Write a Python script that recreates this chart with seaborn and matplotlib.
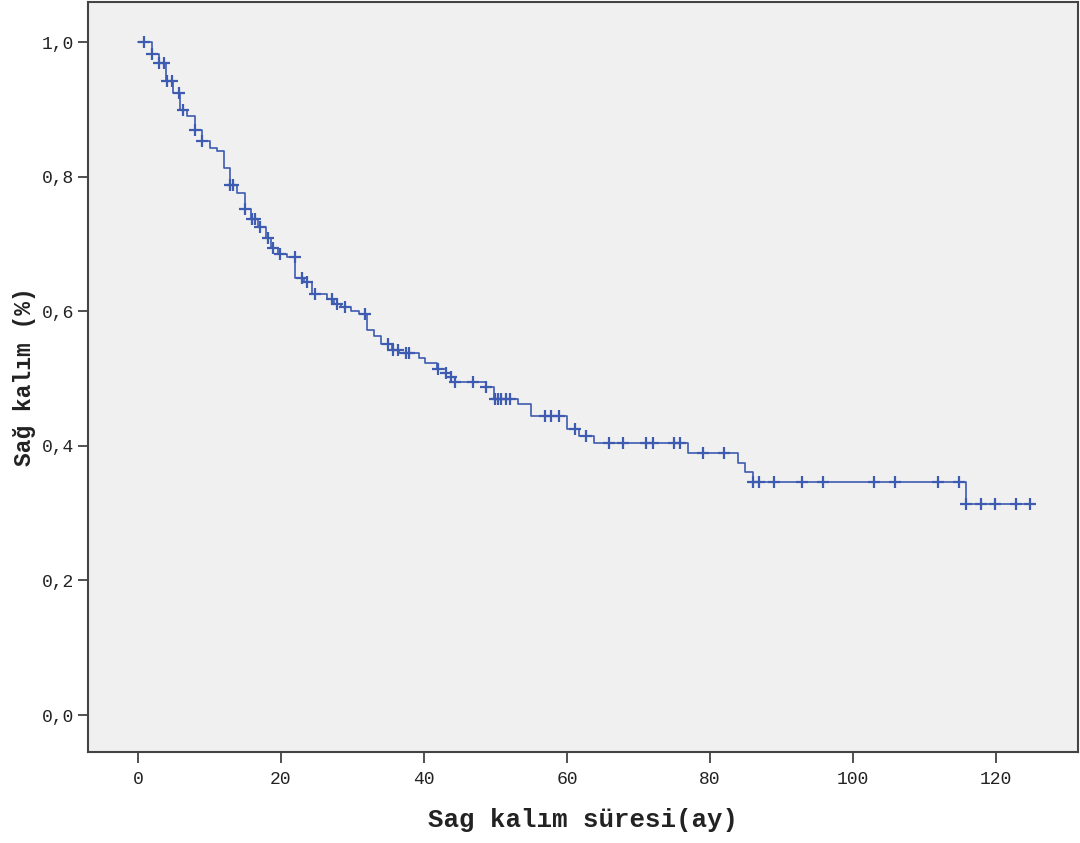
import numpy as np
import pandas as pd
import matplotlib
matplotlib.use("Agg")
import matplotlib.pyplot as plt
import seaborn as sns

# Kaplan-Meier steps: event times (months) and survival after each drop
event_times = [2.0, 3.0, 3.9, 4.9, 5.9, 6.9, 8.0, 8.9, 10.1, 11.1, 12.0, 12.8, 13.9,
               14.9, 15.8, 16.8, 17.9, 18.6, 19.6, 20.8, 22.0, 23.2, 24.3, 26.5, 27.4,
               28.4, 29.8, 30.9, 32.0, 33.0, 34.0, 35.5, 36.5, 39.3, 40.1, 41.8, 43.1,
               43.8, 44.3, 48.7, 49.8, 53.1, 55.0, 60.0, 61.7, 63.8, 77.0, 84.0, 84.9,
               86.0, 115.8]
survival = [0.983, 0.969, 0.943, 0.925, 0.899, 0.890, 0.869, 0.854, 0.843, 0.838, 0.813,
            0.788, 0.776, 0.752, 0.737, 0.726, 0.709, 0.694, 0.686, 0.681, 0.650, 0.643,
            0.626, 0.619, 0.611, 0.606, 0.601, 0.596, 0.572, 0.564, 0.551, 0.543, 0.538,
            0.531, 0.523, 0.514, 0.509, 0.502, 0.495, 0.488, 0.470, 0.462, 0.445, 0.425,
            0.415, 0.404, 0.389, 0.375, 0.361, 0.346, 0.313]
# censored observations (months)
censor_times = [0.8, 2.0, 3.0, 3.6, 4.0, 4.8, 5.8, 6.3, 8.0, 9.0, 12.8, 13.3, 14.9, 15.9,
                16.4, 17.0, 18.2, 18.9, 19.8, 21.9, 22.9, 23.6, 24.7, 27.1, 27.8, 28.9,
                31.7, 35.0, 35.7, 36.4, 37.5, 37.9, 42.0, 43.1, 43.8, 44.3, 46.8, 48.7,
                49.9, 50.3, 50.8, 51.5, 52.0, 56.9, 57.8, 58.9, 61.1, 62.7, 65.9, 67.9,
                71.0, 72.0, 75.0, 75.8, 79.0, 82.0, 86.0, 86.9, 89.0, 92.9, 95.8, 102.9,
                105.9, 111.9, 114.8, 115.8, 117.9, 119.9, 122.8, 124.8]

x_ticks = [0, 20, 40, 60, 80, 100, 120]
y_ticks = [0.0, 0.2, 0.4, 0.6, 0.8, 1.0]
y_ticklabels = ['0,0', '0,2', '0,4', '0,6', '0,8', '1,0']

line_color = '#3d5bb0'

# step curve table
curve = pd.DataFrame({
    'time': [0.0] + event_times + [censor_times[-1]],
    'surv': [1.0] + survival + [survival[-1]],
})
# censor marks sit on the curve
idx = np.searchsorted(event_times, censor_times, side='right')
surv_arr = np.array([1.0] + survival)
cens = pd.DataFrame({'time': censor_times, 'surv': surv_arr[idx]})

sns.set_style('white', {'xtick.bottom': True, 'ytick.left': True})
fig = plt.figure(figsize=(10.8, 8.43), dpi=100)
ax = fig.add_axes([88 / 1080, 91 / 843, 990 / 1080, 750 / 843])
ax.set_facecolor('#f0f0f0')

sns.lineplot(data=curve, x='time', y='surv', drawstyle='steps-post', estimator=None,
             color=line_color, linewidth=1.2, ax=ax)
sns.scatterplot(data=cens, x='time', y='surv', marker='+', s=70, linewidth=1.6,
                color=line_color, ax=ax, zorder=3)

ax.set_xlim(-7, 131.5)
ax.set_ylim(-0.055, 1.06)
ax.set_xticks(x_ticks)
ax.set_xticklabels([str(t) for t in x_ticks], family='Liberation Mono', fontsize=13)
ax.set_yticks(y_ticks)
ax.set_yticklabels(y_ticklabels, family='Liberation Mono', fontsize=13)
ax.tick_params(axis='both', direction='out', length=7, width=1.2, color='#333333',
               labelcolor='#222222', pad=3)
ax.tick_params(axis='x', length=8, pad=6)

for s in ax.spines.values():
    s.set_color('#444444')
    s.set_linewidth(1.5)

ax.set_xlabel('Sag kalım süresi(ay)', family='Liberation Mono', fontweight='bold',
              fontsize=18.5, labelpad=14, color='#222222')
ax.set_ylabel('Sağ kalım (%)', family='Liberation Mono', fontweight='bold',
              fontsize=16.5, labelpad=4, color='#222222')

fig.savefig('out.png', dpi=100)
